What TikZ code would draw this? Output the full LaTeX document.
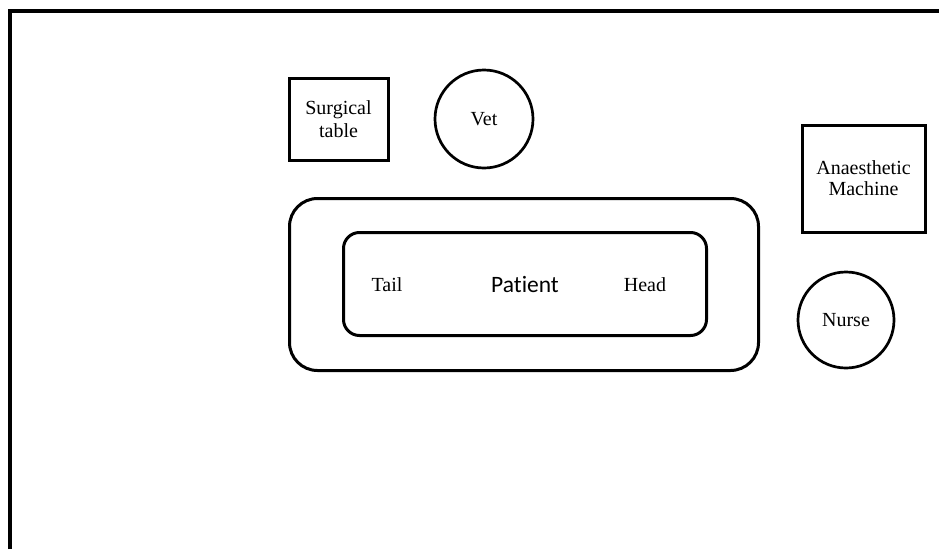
\documentclass[tikz,border=0pt]{standalone}
\usepackage{fontspec}
\setmainfont{Liberation Serif}
\newfontfamily\patientfont[Ligatures=NoCommon]{Carlito}
\begin{document}
\begin{tikzpicture}[x=1pt,y=-1pt,
  every node/.style={font=\fontsize{20}{21}\selectfont},
  box/.style={draw, line width=3pt, rectangle, inner sep=0pt, align=center},
  person/.style={draw, line width=2.7pt, circle, inner sep=0pt, align=center},
  bed/.style={draw, line width=3pt, rectangle, inner sep=0pt},
  label/.style={inner sep=0pt}]
\useasboundingbox (0,0) rectangle (939,549);
% room walls
\draw[line width=4.5pt] (10,549) -- (10,11) -- (939,11);
% equipment and staff
\node[box, minimum width=99pt, minimum height=82pt] (table) at (338.5,119) {Surgical\\[2pt]table};
\node[person, minimum size=98pt] (vet) at (484,119) {Vet};
\node[box, minimum width=123pt, minimum height=107pt] (machine) at (863.5,178.5) {Anaesthetic\\Machine};
\node[person, minimum size=96pt] (nurse) at (846,320) {Nurse};
% operating table with the patient on it
\node[bed, rounded corners=28pt, minimum width=469pt, minimum height=172pt] (optable) at (524,284.5) {};
\node[bed, rounded corners=16pt, minimum width=363pt, minimum height=103pt,
      font=\patientfont\fontsize{23.5}{25}\selectfont] (patient) at (525,284) {Patient};
\node[label] (tail) at (387,285) {Tail};
\node[label] (head) at (645,285) {Head};
\end{tikzpicture}
\end{document}
